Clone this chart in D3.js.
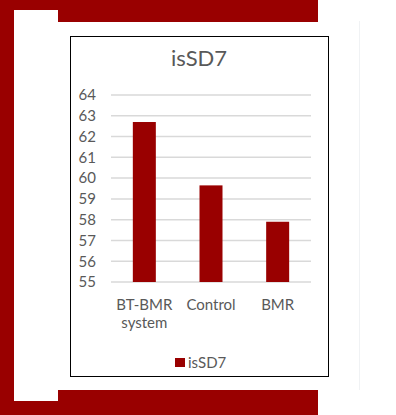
<!DOCTYPE html>
<html>
<head>
<meta charset="utf-8">
<script src="https://cdn.jsdelivr.net/npm/d3@7"></script>
<style>
  html, body { margin: 0; padding: 0; background: #fff; }
  svg { display: block; font-family: Lato, 'Open Sans', sans-serif; }
</style>
</head>
<body>
<div id="chart"></div>
<script>
const categories = [['BT-BMR', 'system'], ['Control'], ['BMR']];
const values = [62.7, 59.65, 57.9];
const yTicks = [55, 56, 57, 58, 59, 60, 61, 62, 63, 64];
const seriesName = 'isSD7';

const dark = '#990000';
const W = 396, H = 415;

const svg = d3.select('#chart').append('svg')
  .attr('width', W)
  .attr('height', H);

// red slide frame
svg.append('rect').attr('x', 0).attr('y', 0).attr('width', 318).attr('height', H).attr('fill', dark);
svg.append('rect').attr('x', 14).attr('y', 22).attr('width', W - 14).attr('height', 368).attr('fill', '#fff');
svg.append('rect').attr('x', 14).attr('y', 10).attr('width', 44).attr('height', 391).attr('fill', '#fff');
svg.append('line')
  .attr('x1', 359.5).attr('x2', 359.5).attr('y1', 21).attr('y2', 390)
  .attr('stroke', '#f0f2f4').attr('stroke-width', 1);

// chart box
svg.append('rect')
  .attr('x', 70.5).attr('y', 36.5).attr('width', 258).attr('height', 340)
  .attr('fill', '#fff').attr('stroke', '#000').attr('stroke-width', 1);

svg.append('text')
  .attr('x', 199).attr('y', 66)
  .attr('text-anchor', 'middle')
  .attr('fill', '#595959')
  .attr('font-size', 22)
  .text(seriesName);

const x = d3.scaleBand()
  .domain(categories.map(d => d.join(' ')))
  .range([111, 311])
  .paddingInner(0.655)
  .paddingOuter(0.3275);

const y = d3.scaleLinear()
  .domain([55, 64])
  .range([282, 95]);

// gridlines
svg.append('g')
  .selectAll('line')
  .data(yTicks)
  .enter().append('line')
    .attr('x1', 111).attr('x2', 311)
    .attr('y1', d => y(d)).attr('y2', d => y(d))
    .attr('stroke', '#d9d9d9')
    .attr('stroke-width', 1.5);

const yAxis = d3.axisLeft(y)
  .tickValues(yTicks)
  .tickSize(0)
  .tickPadding(0);

svg.append('g')
  .attr('transform', 'translate(96,0)')
  .call(yAxis)
  .call(g => g.select('.domain').remove())
  .call(g => g.selectAll('text')
    .attr('fill', '#595959')
    .attr('font-size', 15)
    .attr('font-family', "Lato, 'Open Sans', sans-serif"));

svg.append('g')
  .selectAll('rect')
  .data(values)
  .enter().append('rect')
    .attr('x', (d, i) => x(categories[i].join(' ')))
    .attr('width', x.bandwidth())
    .attr('y', d => y(d))
    .attr('height', d => y(55) - y(d))
    .attr('fill', dark);

// category labels
const lab = svg.append('g')
  .selectAll('text')
  .data(categories)
  .enter().append('text')
    .attr('x', d => x(d.join(' ')) + x.bandwidth() / 2)
    .attr('y', 310)
    .attr('text-anchor', 'middle')
    .attr('fill', '#595959')
    .attr('font-size', 15);
lab.selectAll('tspan')
  .data(d => d)
  .enter().append('tspan')
    .attr('x', function() { return d3.select(this.parentNode).attr('x'); })
    .attr('dy', (d, i) => i === 0 ? 0 : 18)
    .text(d => d);

// legend
svg.append('rect')
  .attr('x', 175).attr('y', 358).attr('width', 10).attr('height', 9)
  .attr('fill', dark);
svg.append('text')
  .attr('x', 188).attr('y', 367.5)
  .attr('fill', '#595959')
  .attr('font-size', 15)
  .text(seriesName);
</script>
</body>
</html>
